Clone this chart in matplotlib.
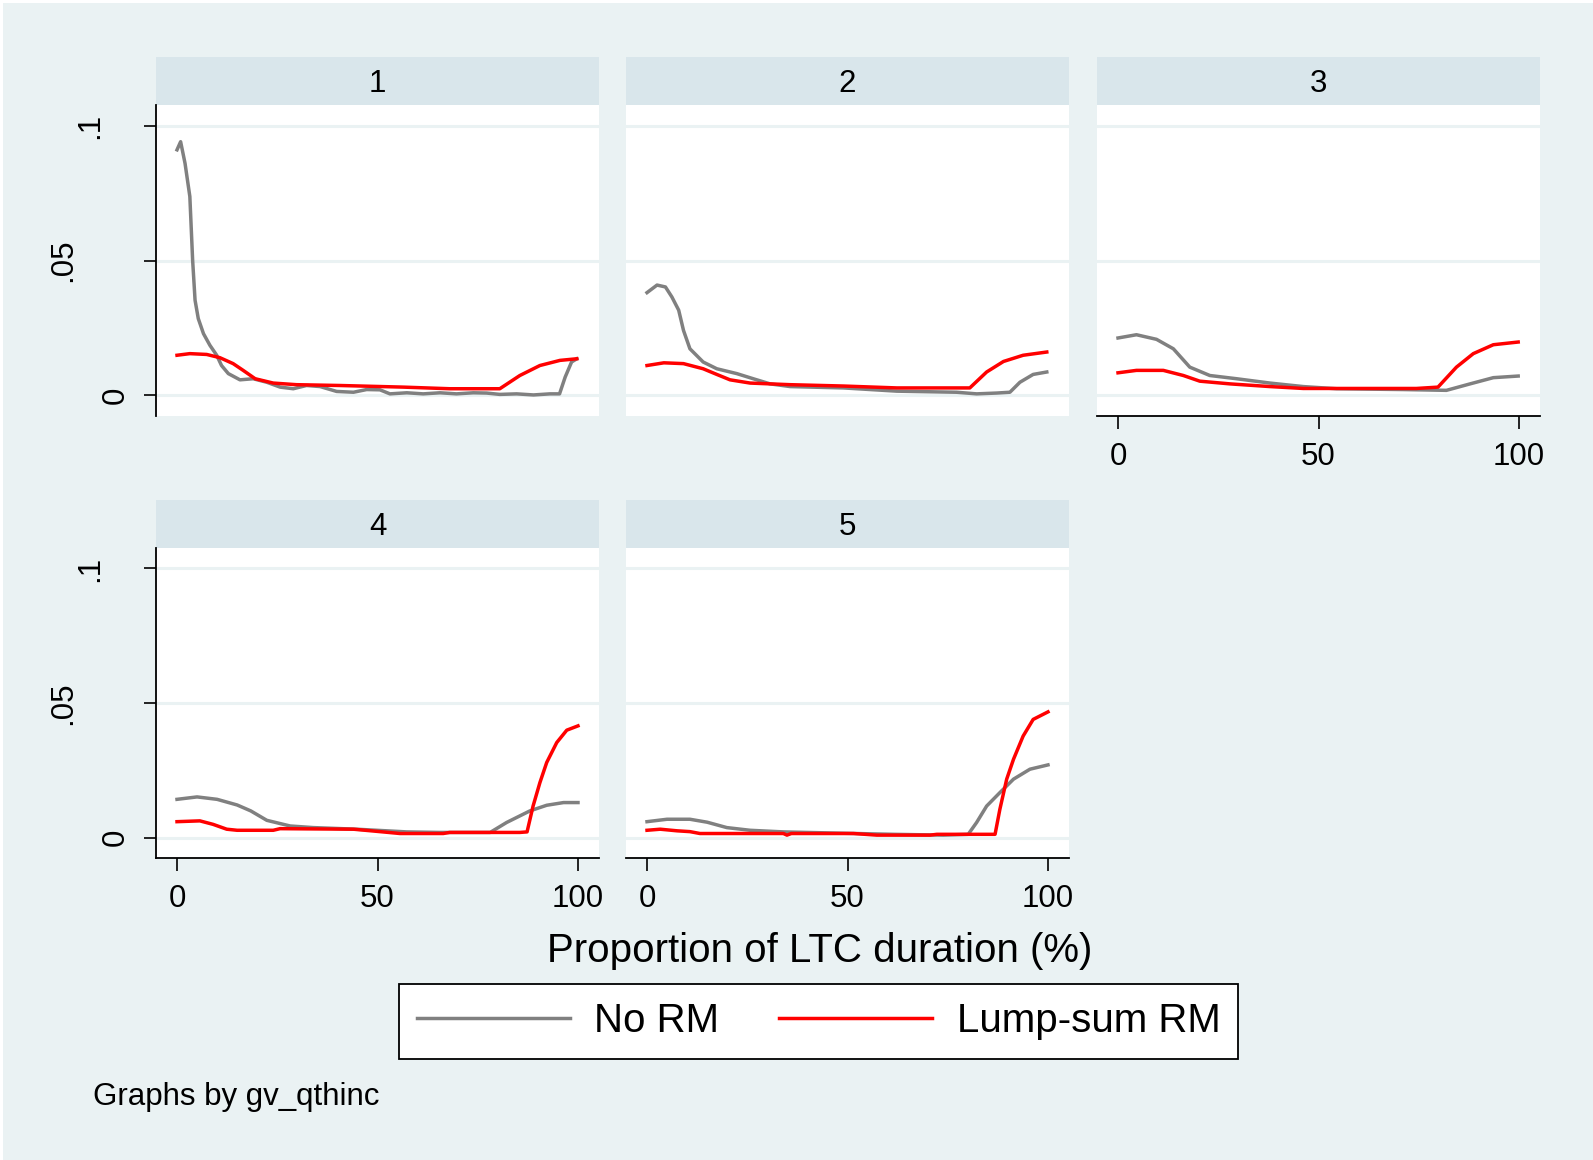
import matplotlib.pyplot as plt
import matplotlib.transforms as mtransforms
from matplotlib.patches import Rectangle

plt.rcParams['font.family'] = ['Liberation Sans', 'DejaVu Sans']

W, H = 1593, 1160

groups = ['1', '2', '3', '4', '5']
series_labels = ['No RM', 'Lump-sum RM']
x_ticks = [0, 50, 100]
x_tick_labels = ['0', '50', '100']
y_ticks = [0, 0.05, 0.1]
y_tick_labels = ['0', '.05', '.1']
x_title = 'Proportion of LTC duration (%)'
note = 'Graphs by gv_qthinc'

# group 1
g1_x_norm = [0, 0.9, 2.0, 3.2, 3.9, 4.5, 5.3, 6.6, 8.2, 9.9, 11.1, 12.8, 15.7, 19, 22.4, 25.7, 29,
             32.3, 35.7, 39.8, 44, 47.3, 50.6, 53.1, 57.3, 61.4, 65.6, 69.7, 73.9, 77.2, 80.5,
             84.7, 88.9, 93, 95.4, 96.8, 98.4, 99.7]
g1_norm = [0.091, 0.094, 0.086, 0.0737, 0.050, 0.0353, 0.0285, 0.0229, 0.0186, 0.0149, 0.0111,
           0.0081, 0.0058, 0.0062, 0.0049, 0.0031, 0.0025, 0.0037, 0.0033, 0.0015, 0.0012, 0.0022,
           0.0021, 0.0006, 0.0010, 0.0006, 0.0010, 0.0006, 0.0010, 0.0009, 0.0004, 0.0006, 0.0002,
           0.0006, 0.0006, 0.0068, 0.0124, 0.0136]
g1_x_lump = [0, 3.2, 7.4, 10.7, 14, 16.5, 19.5, 24, 29.8, 40.6, 56.4, 68, 80.5, 85.5, 90.5, 95.5, 99.7]
g1_lump = [0.0149, 0.0155, 0.0152, 0.0140, 0.0118, 0.0093, 0.0062, 0.0046, 0.0040, 0.0037, 0.0031,
           0.0025, 0.0025, 0.0074, 0.0111, 0.0130, 0.0136]

# group 2
g2_x_norm = [0, 2.5, 4.6, 6.2, 7.9, 9.1, 10.7, 14, 17.4, 22.4, 26.5, 30.7, 35.7, 49, 62.3, 77.2,
             82.2, 87.2, 90.5, 93, 96.3, 99.7]
g2_norm = [0.0381, 0.0409, 0.0402, 0.0365, 0.0316, 0.0241, 0.0173, 0.0124, 0.0099, 0.0081, 0.0062,
           0.0043, 0.0033, 0.0028, 0.0016, 0.0012, 0.0006, 0.0009, 0.0012, 0.0049, 0.0078, 0.0087]
g2_x_lump = [0, 4.2, 9.1, 14, 17.4, 20.7, 25.7, 35.7, 49, 62.3, 80.5, 84.7, 88.9, 93.8, 99.7]
g2_lump = [0.0111, 0.0121, 0.0118, 0.0099, 0.0078, 0.0058, 0.0046, 0.0040, 0.0035, 0.0028, 0.0028,
           0.0087, 0.0126, 0.0149, 0.0161]

# group 3
g3_x_norm = [0, 4.6, 9.6, 13.8, 17.9, 22.9, 29.6, 37.9, 46.2, 54.5, 71.1, 81.9, 87.8, 93.6, 99.8]
g3_norm = [0.0213, 0.0225, 0.0208, 0.0173, 0.0105, 0.0074, 0.0062, 0.0046, 0.0033, 0.0025, 0.0022,
           0.0019, 0.0043, 0.0066, 0.0072]
g3_x_lump = [0, 4.6, 11.3, 16.3, 20.4, 27.9, 37.9, 46.2, 74.4, 79.8, 84.4, 88.6, 93.6, 99.8]
g3_lump = [0.0084, 0.0093, 0.0093, 0.0074, 0.0053, 0.0043, 0.0033, 0.0026, 0.0026, 0.0031, 0.0105,
           0.0155, 0.0188, 0.0198]

# group 4
g4_x_norm = [0, 5, 10, 15, 18.4, 22.4, 28.2, 34, 44.8, 57.3, 65.6, 78.1, 82.2, 88, 92.2, 96.4, 100]
g4_norm = [0.0142, 0.0151, 0.0142, 0.0121, 0.0099, 0.0064, 0.0043, 0.0037, 0.0031, 0.0021, 0.0019,
           0.0019, 0.0056, 0.0099, 0.0120, 0.0130, 0.0130]
g4_x_lump = [0, 5.7, 9, 12.4, 15, 24, 25.7, 44, 50.6, 55.6, 66.4, 68, 85.5, 87.3, 88.8, 90.5, 92.2,
             94.7, 97.2, 100]
g4_lump = [0.0059, 0.0062, 0.0049, 0.0031, 0.0027, 0.0027, 0.0033, 0.0031, 0.0022, 0.0015, 0.0015,
           0.0019, 0.0019, 0.0021, 0.0117, 0.0204, 0.0279, 0.0353, 0.0399, 0.0415]

# group 5
g5_x_norm = [0, 5, 10.7, 15, 19.9, 25.7, 34, 49, 61.4, 73.9, 80.1, 82.2, 84.7, 88, 91.4, 95.5, 100]
g5_norm = [0.0059, 0.0068, 0.0068, 0.0057, 0.0037, 0.0027, 0.0021, 0.0016, 0.0012, 0.0009, 0.0012,
           0.0056, 0.0117, 0.0167, 0.0217, 0.0254, 0.0270]
g5_x_lump = [0, 3.3, 7.5, 10.7, 13.2, 34, 34.9, 36, 51.5, 57.3, 70.6, 72.3, 86.8, 88, 89.7, 91.4,
             93.8, 96.3, 100]
g5_lump = [0.0027, 0.0031, 0.0025, 0.0022, 0.0015, 0.0015, 0.0009, 0.0015, 0.0015, 0.0009, 0.0009,
           0.0012, 0.0012, 0.0105, 0.0217, 0.0291, 0.0377, 0.0439, 0.0467]

data = [(g1_x_norm, g1_norm, g1_x_lump, g1_lump),
        (g2_x_norm, g2_norm, g2_x_lump, g2_lump),
        (g3_x_norm, g3_norm, g3_x_lump, g3_lump),
        (g4_x_norm, g4_norm, g4_x_lump, g4_lump),
        (g5_x_norm, g5_norm, g5_x_lump, g5_lump)]

BG = '#EAF2F3'
STRIP = '#D9E6EB'
GRAY = '#808080'
RED = '#FF0000'

fig = plt.figure(figsize=(W / 100, H / 100), dpi=100, facecolor='white')
fig.patches.append(Rectangle((3 / W, 0), 1, 1 - 3 / H, transform=fig.transFigure,
                             facecolor=BG, edgecolor='none', zorder=-10))

cols = [(156, 599), (626, 1069), (1097, 1540)]
rows = [(105, 416), (548, 858)]
strip_h = 48

# panel index -> (row, col), and which axes to draw
layout = {0: (0, 0), 1: (0, 1), 2: (0, 2), 3: (1, 0), 4: (1, 1)}
has_yaxis = {0, 3}
has_xaxis = {2, 3, 4}

lines = None
for i, grp in enumerate(groups):
    r, c = layout[i]
    l, rr = cols[c]
    t, b = rows[r]
    ax = fig.add_axes([l / W, 1 - b / H, (rr - l) / W, (b - t) / H])
    ax.set_facecolor('white')
    xn, yn, xl, yl = data[i]
    ln1, = ax.plot(xn, yn, color=GRAY, lw=2.5, zorder=3, solid_joinstyle='round')
    ln2, = ax.plot(xl, yl, color=RED, lw=2.5, zorder=4, solid_joinstyle='round')
    lines = (ln1, ln2)
    ax.set_xlim(-5.24, 105.24)
    ax.set_ylim(-0.0076, 0.1076)
    ax.set_yticks(y_ticks)
    ax.set_xticks(x_ticks)
    ax.set_xticklabels(x_tick_labels)
    ax.yaxis.grid(True, color=BG, lw=2.2)
    ax.set_axisbelow(True)
    for s in ax.spines.values():
        s.set_visible(False)
    ax.tick_params(axis='both', direction='out', length=9, width=1.2, color='black',
                   labelsize=22.5, pad=10)
    ax.tick_params(axis='y', labelleft=False, left=(i in has_yaxis))
    if i in has_yaxis:
        ax.spines['left'].set_visible(True)
        ax.spines['left'].set_linewidth(1.3)
        tr = mtransforms.blended_transform_factory(ax.transAxes, ax.transData)
        # Stata staggers the rotated labels by their length
        offs = [-0.0564, -0.176, -0.115]
        for v, s, o in zip(y_ticks, y_tick_labels, offs):
            ax.text(o, v, s, rotation=90, ha='right', va='center', fontsize=22.5, transform=tr)
    if i in has_xaxis:
        ax.spines['bottom'].set_visible(True)
        ax.spines['bottom'].set_linewidth(1.3)
    else:
        ax.tick_params(axis='x', bottom=False, labelbottom=False)
    # strip header
    sh = strip_h / (b - t)
    ax.add_patch(Rectangle((0, 1), 1, sh, transform=ax.transAxes, facecolor=STRIP,
                           edgecolor='none', clip_on=False))
    ax.text(0.5, 1 + sh / 2 - 3 / (b - t), grp, ha='center', va='center', fontsize=22.5,
            transform=ax.transAxes)

fig.text(820 / W, 1 - 951 / H, x_title, ha='center', va='center', fontsize=29)

leg = fig.legend(lines, series_labels, loc='center', bbox_to_anchor=(818.5 / W, 1 - 1021.5 / H),
                 ncol=2, frameon=True, fancybox=False, edgecolor='black', facecolor='white',
                 framealpha=1, fontsize=29, handlelength=3.8, handletextpad=0.6,
                 columnspacing=1.5, borderpad=0.45)
leg.get_frame().set_linewidth(1.3)

fig.text(93 / W, 1 - 1097 / H, note, ha='left', va='center', fontsize=22.5)

fig.savefig('out.png', dpi=100, facecolor=fig.get_facecolor())
